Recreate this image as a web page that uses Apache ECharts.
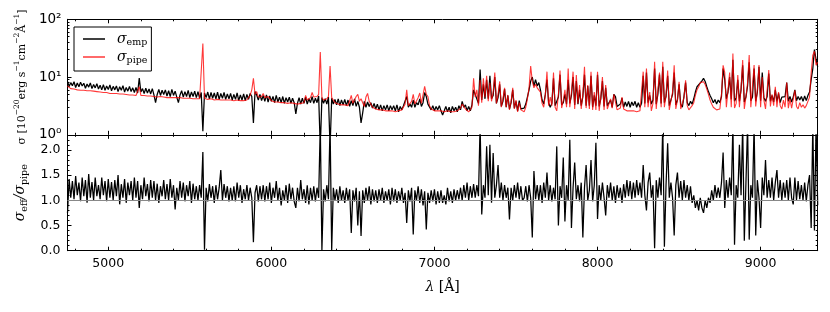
<!DOCTYPE html>
<html><head><meta charset="utf-8">
<script src="https://cdn.jsdelivr.net/npm/echarts@6/dist/echarts.min.js"></script>
<style>html,body{margin:0;padding:0;background:#fff}#c{width:830px;height:312px}</style>
</head><body><div id="c"></div>
<script>
// wavelength grid (Angstrom) of the samples below: 4750, 4760, ... 9350
const lambdaStart = 4750, lambdaStep = 10;

// sigma_emp  [1e-20 erg s-1 cm-2 A-1], one row per 100 A
const sigmaEmp = [
 8.4,6.9,8.0,7.1,8.3,6.6,7.9,6.8,8.1,7.0,
 7.8,6.4,7.6,6.7,7.9,6.3,7.4,6.5,7.7,6.2,
 7.2,6.0,7.4,5.9,7.0,6.1,7.3,5.8,6.9,6.0,
 7.0,5.6,6.8,5.9,7.1,5.5,6.6,5.7,6.9,5.6,
 6.5,5.4,6.6,5.3,9.6,5.5,6.3,5.2,6.4,5.3,
 6.2,5.1,6.3,4.9,3.6,5.0,6.1,4.8,5.9,5.0,
 6.0,4.7,5.8,4.6,6.1,4.8,5.7,4.5,3.6,4.9,
 5.8,4.5,5.6,4.6,5.9,4.4,5.5,4.6,5.7,4.4,
 5.6,4.3,5.4,1.15,5.3,4.4,5.5,4.2,5.4,4.3,
 5.3,4.2,5.5,4.1,5.2,4.3,5.4,4.1,5.1,4.2,
 5.2,4.0,5.0,4.1,5.3,3.9,4.9,4.0,5.1,3.9,
 5.0,4.1,5.2,4.6,1.6,5.6,4.9,4.0,5.0,3.9,
 4.8,3.8,4.9,3.7,4.7,3.8,4.6,3.6,4.8,3.7,
 4.5,3.6,4.6,3.5,4.4,3.7,4.5,3.5,4.3,3.6,
 2.3,3.5,4.4,3.4,4.3,3.5,4.5,3.4,4.2,3.6,
 4.6,3.5,4.3,3.6,4.7,0.6,4.4,3.5,4.2,3.4,
 4.5,0.6,4.3,3.4,4.1,3.3,4.2,3.2,4.0,3.3,
 4.1,3.2,4.0,3.1,3.9,3.2,4.2,3.1,3.8,3.0,
 1.6,2.4,3.8,3.0,3.7,3.1,3.6,2.9,3.5,2.8,
 3.4,2.7,3.3,2.6,3.2,2.7,3.3,2.6,3.2,2.7,
 3.2,2.6,3.3,2.5,3.1,2.7,3.2,3.0,4.6,3.0,
 3.4,3.0,4.0,3.0,3.6,3.3,4.2,3.1,3.6,5.4,
 4.6,3.4,3.3,2.7,3.2,2.6,3.1,2.7,3.2,2.6,
 2.2,2.6,3.1,2.5,3.0,2.4,3.1,2.6,3.0,2.5,
 3.2,2.7,3.8,3.0,3.3,2.6,3.1,2.6,3.3,6.0,
 5.0,5.2,3.5,13.5,4.0,7.5,4.2,9.0,4.2,10.5,
 4.2,4.8,10.0,3.5,4.4,7.5,3.1,3.8,6.2,3.0,
 4.8,2.8,3.6,6.0,2.9,3.8,2.6,3.9,2.8,2.6,
 2.9,3.4,4.5,6.0,8.5,10.0,7.0,9.0,7.0,8.0,
 6.0,4.0,3.4,5.0,9.0,3.6,3.0,3.5,9.5,3.2,
 3.0,4.5,11.0,3.3,3.6,5.0,3.4,9.0,3.5,4.8,
 10.0,3.3,8.5,3.4,6.0,3.2,4.6,11.0,3.2,7.0,
 3.2,10.5,3.0,4.8,3.2,11.0,3.1,4.2,8.5,3.1,
 6.5,3.2,3.0,4.0,3.0,5.0,4.6,3.1,3.0,3.4,
 4.3,3.0,3.7,3.1,3.8,3.0,3.7,3.2,3.8,3.0,
 3.6,3.0,3.5,10.5,3.5,12.0,3.6,4.8,3.4,4.0,
 14.0,3.4,5.0,11.0,3.5,15.0,3.6,4.6,10.5,3.2,
 3.0,5.0,12.0,3.3,4.0,7.5,3.4,3.0,4.6,8.0,
 3.6,3.2,3.8,3.4,4.2,5.5,6.8,7.2,7.9,8.6,
 9.5,8.4,6.8,5.6,4.8,4.2,3.6,4.1,3.4,4.0,
 3.6,4.6,14.0,9.0,4.2,5.5,10.0,4.1,20.0,3.8,
 4.4,9.0,3.8,6.0,16.0,3.7,4.5,7.0,18.0,3.9,
 4.5,14.0,3.8,5.5,15.0,3.9,12.0,4.4,3.8,4.6,
 11.5,3.8,4.8,3.7,6.0,3.8,5.2,3.6,4.5,4.3,
 4.6,8.0,3.8,4.6,3.7,4.5,6.0,3.9,4.6,4.0,
 4.6,3.8,4.7,3.9,4.8,5.5,9.0,14.0,30.0,20.0,
 15.0
];

// sigma_pipe
const sigmaPipe = [
 7.0,6.5,6.3,6.2,6.2,6.0,6.0,6.0,5.9,5.8,
 5.9,5.8,5.8,5.7,5.8,5.7,5.7,5.6,5.6,5.5,
 5.5,5.4,5.4,5.3,5.4,5.3,5.2,5.3,5.2,5.2,
 5.2,5.1,5.1,5.0,5.1,5.0,5.0,5.0,4.9,4.9,
 4.9,4.9,4.8,4.9,6.8,4.8,4.7,4.8,4.7,4.7,
 4.6,4.7,4.6,4.6,4.6,4.5,4.5,4.6,4.5,4.5,
 4.5,4.4,4.4,4.4,4.5,4.4,4.3,4.4,4.3,4.4,
 4.3,4.3,4.4,4.3,4.2,4.3,4.3,4.2,4.3,4.2,
 4.2,4.2,4.4,38,4.3,4.2,4.1,4.1,4.2,4.1,
 4.0,4.1,4.1,4.0,4.0,4.1,4.0,4.0,4.0,4.0,
 4.0,4.0,3.9,3.9,4.0,3.9,3.9,3.9,3.9,3.9,
 4.0,4.2,4.8,6.0,9.5,5.0,5.6,4.5,4.4,4.6,
 5.2,4.4,4.2,4.6,4.6,3.9,3.8,3.7,3.7,3.7,
 3.6,3.6,3.7,3.6,3.5,3.5,3.6,3.6,3.5,3.5,
 3.5,3.4,3.4,3.5,3.5,3.6,4.8,4.0,3.7,4.4,
 5.4,4.5,4.2,4.6,5.0,27,4.4,4.0,3.9,4.2,
 4.6,15.5,4.4,4.0,3.6,3.4,3.4,3.3,3.3,3.3,
 3.3,3.2,3.2,3.9,4.8,3.5,3.6,4.6,5.0,3.8,
 4.2,3.6,3.1,4.5,5.2,3.8,3.4,3.0,2.8,2.8,
 2.7,2.7,2.7,2.7,2.6,2.6,2.6,2.6,2.6,2.6,
 2.6,2.5,2.5,2.6,2.6,2.7,2.7,3.4,6.0,3.2,
 3.2,3.8,5.0,3.4,3.3,4.4,5.3,3.5,3.6,6.9,
 5.0,4.6,3.2,2.8,2.7,2.6,2.6,2.6,2.6,2.6,
 2.5,2.5,2.6,2.6,2.5,2.5,2.5,2.5,2.6,2.6,
 2.6,2.9,3.4,3.1,2.8,2.6,2.5,2.7,3.0,9.5,
 4.5,6.0,3.2,9.0,3.6,9.5,4.5,10.5,3.8,8.0,
 3.8,5.5,12.0,3.5,5.0,8.4,3.0,4.2,6.5,3.0,
 4.9,2.7,3.8,6.5,2.8,4.0,2.5,3.6,2.7,2.5,
 2.5,3.0,4.2,6.5,15.5,8.5,6.5,7.5,6.5,6.8,
 5.5,3.5,3.0,5.0,12.4,3.2,4.5,3.2,12.0,3.0,
 2.6,5.0,13.0,2.9,4.0,6.0,3.0,14.0,3.0,5.5,
 12.4,2.8,10.8,3.5,7.3,2.8,5.0,15.0,2.9,7.3,
 2.8,12.4,2.7,5.5,2.7,12.4,2.6,4.5,10.0,2.7,
 7.3,2.8,2.6,4.2,2.9,5.0,5.2,2.7,2.6,2.9,
 4.5,2.8,2.6,2.6,2.5,2.6,2.6,2.6,2.5,2.5,
 2.5,2.6,2.6,12.4,3.0,14.0,3.0,5.5,2.6,3.5,
 18.4,2.8,6.0,12.0,3.0,18.4,3.0,5.0,13.0,2.7,
 2.5,5.5,16.0,2.8,4.0,8.3,2.8,2.6,4.4,8.8,
 3.2,2.7,2.9,3.2,3.6,4.8,6.0,6.8,8.0,8.4,
 8.3,7.4,6.2,5.0,4.0,3.4,3.0,2.8,2.7,2.8,
 2.8,5.0,16.0,12.0,3.0,6.0,12.0,3.0,25.6,2.9,
 3.5,10.8,3.0,6.5,19.7,2.8,4.5,8.0,24.0,3.0,
 3.0,16.1,3.1,6.0,16.1,3.0,10.0,4.0,2.8,3.0,
 13.2,3.1,5.0,3.2,6.8,3.0,5.5,3.2,2.8,4.0,
 3.0,8.0,2.9,4.2,2.9,3.0,5.9,3.1,2.8,3.6,
 3.0,3.3,2.9,3.2,3.4,4.5,12.0,24.0,28.0,16.0,
 18.0
];

// sigma_eff / sigma_pipe
const sigmaRatio = [
 0.75,1.42,1.05,1.38,1.02,1.48,1.10,1.35,0.98,1.45,
 1.08,1.40,0.95,1.52,1.05,1.36,1.00,1.45,1.08,1.30,
 1.02,1.45,1.10,1.38,0.98,1.42,1.05,1.36,1.00,1.40,
 1.08,1.50,0.92,1.32,1.05,1.42,0.95,1.35,1.10,1.38,
 1.00,1.45,1.05,1.38,0.85,1.30,1.02,1.45,1.08,1.32,
 0.98,1.40,1.05,1.38,1.00,1.33,0.95,1.28,1.08,1.40,
 1.02,1.32,1.00,1.42,1.05,1.30,0.82,1.25,1.00,1.38,
 1.05,1.35,0.98,1.30,1.08,1.38,0.95,1.33,1.02,1.28,
 1.00,1.30,1.05,1.96,0.02,1.25,0.98,1.32,1.05,1.28,
 0.95,1.30,1.02,1.25,1.60,1.00,1.32,1.05,1.28,0.98,
 1.25,1.00,1.28,0.98,1.35,1.05,1.30,0.95,1.22,1.02,
 1.30,1.00,1.25,1.05,0.17,1.15,1.30,0.98,1.28,1.02,
 1.30,0.98,1.28,1.02,1.35,0.95,1.25,1.05,1.38,1.00,
 1.25,0.90,1.20,1.00,1.30,0.95,1.33,1.02,1.25,0.98,
 0.85,1.25,0.98,1.40,1.02,1.22,0.95,1.30,0.92,1.25,
 1.00,1.28,0.98,1.25,1.05,2.5,0.01,1.22,0.98,1.30,
 1.02,2.5,0.01,1.25,1.00,1.22,0.95,1.28,1.00,1.20,
 0.95,1.25,1.00,1.22,0.35,1.20,0.98,1.25,0.50,1.18,
 0.29,1.20,0.95,1.25,1.00,1.28,0.92,1.22,0.98,1.20,
 0.95,1.22,1.00,1.25,0.95,1.18,1.00,1.22,0.92,1.25,
 0.98,1.22,0.95,1.18,1.00,1.25,0.95,1.15,0.55,1.20,
 0.98,1.25,0.32,1.20,1.00,1.28,0.95,1.22,0.90,1.18,
 0.42,1.15,0.95,1.20,0.98,1.22,0.92,1.18,0.95,1.20,
 0.95,1.10,0.92,1.25,0.98,1.18,0.95,1.22,1.00,1.20,
 1.02,1.25,1.00,1.30,1.05,1.35,1.00,1.28,1.05,1.32,
 1.05,1.30,1.08,2.5,0.72,1.30,1.05,2.07,1.10,2.10,
 0.95,1.94,1.05,1.30,1.70,1.05,1.35,1.00,1.30,1.05,
 1.25,0.62,1.25,1.00,1.30,1.05,1.35,1.02,1.28,1.00,
 1.05,1.28,0.98,1.30,1.05,0.26,1.58,1.02,1.30,1.00,
 1.30,0.95,1.35,1.05,1.55,1.00,1.30,0.98,1.25,1.02,
 2.07,0.50,1.28,1.05,1.85,0.58,1.30,1.00,2.20,0.45,
 1.25,1.75,1.02,1.30,0.98,1.35,0.26,1.25,1.70,1.00,
 1.20,1.80,0.98,1.30,2.14,0.63,1.30,1.00,1.35,1.05,
 0.70,1.30,1.05,1.35,1.00,1.28,0.95,1.30,1.05,1.25,
 0.95,1.32,1.05,1.40,1.08,1.38,1.02,1.35,1.05,1.40,
 1.10,1.35,1.05,1.70,1.10,0.80,1.35,1.55,1.05,1.30,
 0.05,1.40,1.05,1.45,1.10,2.5,0.08,1.30,2.13,1.05,
 1.35,1.05,0.30,1.30,1.55,1.05,1.38,1.00,1.40,1.05,
 1.30,1.00,1.28,0.95,1.10,0.85,1.00,0.80,1.05,0.85,
 0.75,1.00,0.85,1.05,0.95,1.20,1.00,1.30,1.05,1.25,
 1.05,1.35,1.95,0.85,1.40,1.05,1.45,1.10,2.5,0.12,
 1.30,1.05,2.10,1.10,2.5,0.20,1.35,2.5,0.22,1.30,
 1.05,2.5,0.30,1.40,1.05,0.45,1.45,1.10,1.80,1.05,
 1.40,1.05,1.45,1.00,1.35,1.60,1.05,1.40,1.00,1.35,
 1.05,1.40,1.00,1.45,1.05,0.92,1.45,1.00,1.38,1.02,
 1.30,1.00,1.35,0.98,1.30,1.50,0.45,2.5,0.40,2.5,
 0.9
];

const topTickLabels = ['10\u2070','10\u00b9','10\u00b2'];
const ratioTickLabels = ['0.0','0.5','1.0','1.5','2.0'];
const logMinorValues = [2,3,4,5,6,7,8,9,20,30,40,50,60,70,80,90];
const legendNames = ['emp','pipe'];

const toPairs = arr => arr.map((v, i) => [lambdaStart + i * lambdaStep, v]);

const SERIF = 'DejaVu Serif';
const SANS = 'DejaVu Sans';
const black = '#000';
const red = 'rgba(255,0,0,0.78)';

function xAx(grid, pos, labels) {
  return {
    type: 'value', gridIndex: grid, position: pos, min: 4750, max: 9350,
    splitLine: {show: false},
    axisLine: {show: true, onZero: false, lineStyle: {color: black, width: 1}},
    axisTick: {show: true, inside: true, length: 4, lineStyle: {color: black, width: 1}},
    minorTick: {show: true, splitNumber: 5, length: 2, lineStyle: {color: black, width: 1}},
    axisLabel: {show: labels, showMinLabel: false, showMaxLabel: false, margin: 7,
      fontFamily: SANS, fontSize: 12.5, color: black, formatter: v => String(v)},
  };
}

const option = {
  animation: false,
  backgroundColor: '#fff',
  grid: [
    {left: 67.5, right: 12.3, top: 19.3, height: 115.5},
    {left: 67.5, right: 12.3, top: 134.8, height: 115.9}
  ],
  legend: {
    data: legendNames, left: 74, top: 27, orient: 'vertical',
    icon: 'rect', itemWidth: 22, itemHeight: 1.5, itemGap: 2,
    padding: [5, 4, 5, 9],
    borderColor: black, borderWidth: 1, backgroundColor: '#fff',
    formatter: n => '{s|\u03c3}{b|' + n + '}',
    textStyle: {
      padding: [0, 0, 0, 7],
      rich: {
        s: {fontFamily: SERIF, fontStyle: 'italic', fontSize: 14, lineHeight: 18, color: black},
        b: {fontFamily: SERIF, fontSize: 9.5, lineHeight: 10, verticalAlign: 'bottom', color: black}
      }
    }
  },
  xAxis: [
    xAx(0, 'bottom', false),
    xAx(0, 'top', false),
    Object.assign(xAx(1, 'bottom', true), {
      name: '{i|\u03bb}{n| [\u00c5]}', nameLocation: 'middle', nameGap: 30,
      nameTextStyle: {rich: {
        i: {fontFamily: SERIF, fontStyle: 'italic', fontSize: 14, color: black},
        n: {fontFamily: SERIF, fontSize: 14, color: black}
      }}
    }),
    xAx(1, 'top', false)
  ],
  yAxis: [
    {
      type: 'log', logBase: 10, gridIndex: 0, position: 'left', min: 1, max: 100,
      splitLine: {show: false},
      axisLine: {show: true, lineStyle: {color: black, width: 1}},
      axisTick: {show: true, inside: true, length: 4, lineStyle: {color: black}},
      axisLabel: {margin: 6, fontFamily: SANS, fontSize: 13.5, color: black,
        formatter: v => topTickLabels[Math.round(Math.log10(v))]},
      name: '{m|\u03c3 }{m|[10}{p|\u221220}{m|erg s}{p|\u22121}{m|cm}{p|\u22122}{m|\u00c5}{p|\u22121}{m|]}',
      nameLocation: 'middle', nameRotate: 90, nameGap: 31,
      nameTextStyle: {rich: {
        m: {fontFamily: SERIF, fontSize: 11, lineHeight: 15, verticalAlign: 'bottom', color: black},
        p: {fontFamily: SERIF, fontSize: 7.5, lineHeight: 9, verticalAlign: 'top', color: black}
      }}
    },
    {
      type: 'log', logBase: 10, gridIndex: 0, position: 'right', min: 1, max: 100,
      splitLine: {show: false},
      axisLine: {show: true, lineStyle: {color: black, width: 1}},
      axisTick: {show: true, inside: true, length: 4, lineStyle: {color: black}},
      axisLabel: {show: false}
    },
    {
      type: 'value', gridIndex: 0, position: 'left', min: 0, max: 2,
      splitLine: {show: false}, axisLine: {show: false}, axisLabel: {show: false},
      axisTick: {show: true, inside: true, length: 2, lineStyle: {color: black},
        customValues: logMinorValues.map(v => Math.log10(v))}
    },
    {
      type: 'value', gridIndex: 0, position: 'right', min: 0, max: 2,
      splitLine: {show: false}, axisLine: {show: false}, axisLabel: {show: false},
      axisTick: {show: true, inside: true, length: 2, lineStyle: {color: black},
        customValues: logMinorValues.map(v => Math.log10(v))}
    },
    {
      type: 'value', gridIndex: 1, position: 'left', min: 0, max: 2.3, interval: 0.5,
      splitLine: {show: false},
      axisLine: {show: true, lineStyle: {color: black, width: 1}},
      axisTick: {show: true, inside: true, length: 4, lineStyle: {color: black}},
      minorTick: {show: true, splitNumber: 5, length: 2, lineStyle: {color: black}},
      axisLabel: {margin: 7, fontFamily: SANS, fontSize: 12.5, color: black, showMaxLabel: false,
        formatter: v => ratioTickLabels[Math.round(v / 0.5)] || ''},
      name: '{s|\u03c3}{b|eff}{s|/\u03c3}{b|pipe}',
      nameLocation: 'middle', nameRotate: 90, nameGap: 31,
      nameTextStyle: {rich: {
        s: {fontFamily: SERIF, fontStyle: 'italic', fontSize: 14, lineHeight: 18, color: black},
        b: {fontFamily: SERIF, fontSize: 9.5, lineHeight: 10, verticalAlign: 'bottom', color: black}
      }}
    },
    {
      type: 'value', gridIndex: 1, position: 'right', min: 0, max: 2.3, interval: 0.5,
      splitLine: {show: false},
      axisLine: {show: true, lineStyle: {color: black, width: 1}},
      axisTick: {show: true, inside: true, length: 4, lineStyle: {color: black}},
      minorTick: {show: true, splitNumber: 5, length: 2, lineStyle: {color: black}},
      axisLabel: {show: false}
    }
  ],
  series: [
    {
      name: legendNames[0], type: 'line', xAxisIndex: 0, yAxisIndex: 0,
      data: toPairs(sigmaEmp), symbol: 'none', clip: true, z: 2,
      itemStyle: {color: black}, lineStyle: {color: black, width: 1.25}
    },
    {
      name: legendNames[1], type: 'line', xAxisIndex: 0, yAxisIndex: 0,
      data: toPairs(sigmaPipe), symbol: 'none', clip: true, z: 3,
      itemStyle: {color: red}, lineStyle: {color: red, width: 1.1}
    },
    {
      name: 'ratio', type: 'line', xAxisIndex: 2, yAxisIndex: 4,
      data: toPairs(sigmaRatio), symbol: 'none', clip: true, z: 2,
      itemStyle: {color: black}, lineStyle: {color: black, width: 1.25},
      markLine: {
        silent: true, symbol: 'none', label: {show: false}, z: 4,
        lineStyle: {color: '#888', width: 1, type: 'solid'},
        data: [{yAxis: 1}]
      }
    }
  ]
};

const chart = echarts.init(document.getElementById('c'), null, {renderer: 'canvas'});
chart.setOption(option);
</script>
</body></html>
